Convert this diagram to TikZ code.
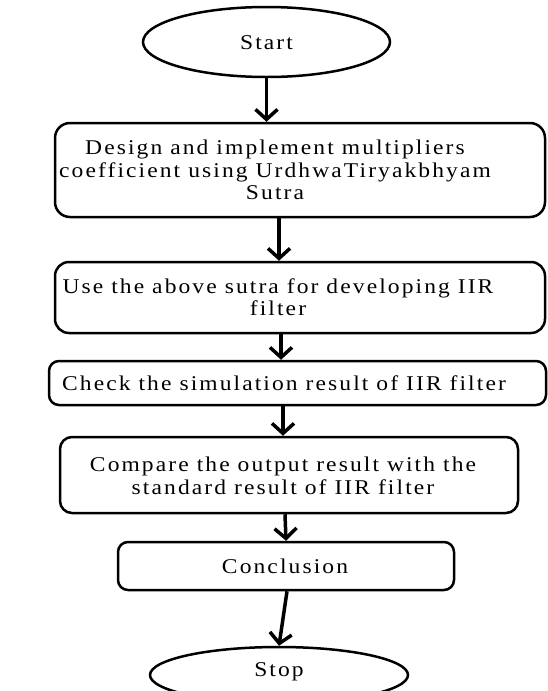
\documentclass[tikz,border=0pt]{standalone}
\usepackage{fontspec}
\setmainfont{Liberation Serif}[FakeStretch=1.12,LetterSpace=10]
\usetikzlibrary{arrows.meta,shapes.geometric}
\begin{document}
\begin{tikzpicture}[x=1pt,y=-1pt,
  box/.style={draw,line width=2.5pt,rounded corners=#1,inner sep=0pt},
  txt/.style={align=center,font=\fontsize{21}{22.5}\selectfont,inner sep=0pt},
  term/.style={draw,ellipse,line width=2.5pt,inner sep=0pt},
  flow/.style={line width=3.5pt,-{Straight Barb[length=10pt,width=22pt]}}]
\useasboundingbox (0,0) rectangle (548,691);
\clip (0,0) rectangle (548,691);
% shapes
\node[term, minimum width=247pt, minimum height=70pt] (start) at (266.5,42) {};
\node[box=15pt, minimum width=490pt, minimum height=94pt] (b1) at (300,170) {};
\node[box=14pt, minimum width=490pt, minimum height=71pt] (b2) at (300,297.5) {};
\node[box=10pt, minimum width=497pt, minimum height=44pt] (b3) at (297.5,383) {};
\node[box=12pt, minimum width=458pt, minimum height=76pt] (b4) at (289,475) {};
\node[box=10pt, minimum width=336pt, minimum height=48pt] (b5) at (286,566) {};
\node[term, minimum width=258pt, minimum height=56pt] (stop) at (279,675) {};
% texts
\node[txt] (tstart) at (266.5,43) {Start};
\node[txt] (t1) at (275,170) {Design and implement multipliers\\coefficient using UrdhwaTiryakbhyam\\Sutra};
\node[txt] (t2) at (278,297) {Use the above sutra for developing IIR\\filter};
\node[txt] (t3) at (284,383) {Check the simulation result of IIR filter};
\node[txt] (t4) at (283,476) {Compare the output result with the\\standard result of IIR filter};
\node[txt] (t5) at (285,566) {Conclusion};
\node[txt] (tstop) at (279,672) {Stop};
% connectors
\draw[flow] (start.south) -- (start.south |- b1.north);
\draw[flow] ([xshift=-21pt]b1.south) -- ([xshift=-21pt]b2.north);
\draw[flow] ([xshift=-19pt]b2.south) -- ([xshift=-16.5pt]b3.north);
\draw[flow] ([xshift=-14.5pt]b3.south) -- ([xshift=-6pt]b4.north);
\draw[flow] ([xshift=-4pt]b4.south) -- (b5.north);
\draw[flow] ([xshift=1pt]b5.south) -- (stop.north);
\end{tikzpicture}
\end{document}
